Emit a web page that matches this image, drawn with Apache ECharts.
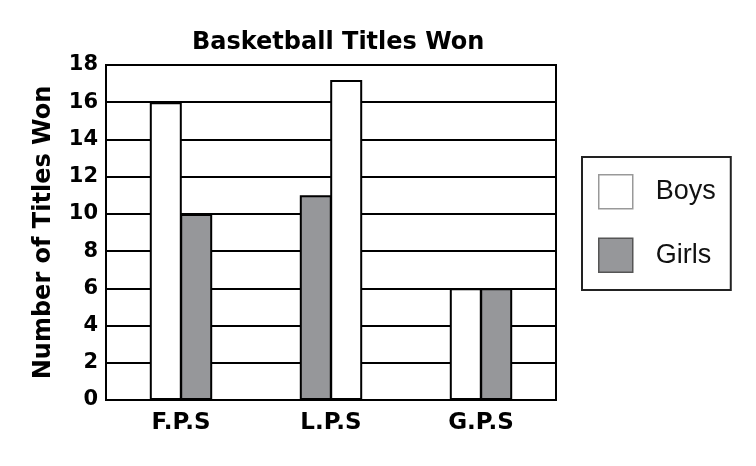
<!DOCTYPE html>
<html style="height: 100%">
<head>
  <meta charset="utf-8">
  <title>Basketball Titles Won</title>
</head>
<body style="height: 100%; margin: 0; background: #fff">
<div id="container" style="width: 756px; height: 466px"></div>
<script type="text/javascript" src="https://cdn.jsdelivr.net/npm/echarts@6/dist/echarts.min.js"></script>
<script type="text/javascript">
  let dom = document.getElementById("container");
  let myChart = echarts.init(dom);

  // data
  let schools = ['F.P.S', 'L.P.S', 'G.P.S']
  let boys = [16, 17.2, 6]
  let girls = [10, 11, 6]
  // at L.P.S the girls bar is drawn on the left
  let girlsFirst = [false, true, false]
  let yTicks = [0, 2, 4, 6, 8, 10, 12, 14, 16, 18]

  let white = '#ffffff'
  let grey = '#96979a'

  // left / right slot of each group
  let leftData = schools.map((s, i) => girlsFirst[i]
    ? { value: girls[i], itemStyle: { color: grey } }
    : { value: boys[i] })
  let rightData = schools.map((s, i) => girlsFirst[i]
    ? { value: boys[i], itemStyle: { color: white } }
    : { value: girls[i] })

  let boldFont = 'DejaVu Sans'

  let option = {
    animation: false,
    title: {
      text: 'Basketball Titles Won',
      left: 187,
      top: 26,
      textStyle: { fontFamily: boldFont, fontWeight: 'bold', fontSize: 24, color: '#000' }
    },
    legend: {
      orient: 'vertical',
      left: 582,
      top: 157,
      padding: [17, 15, 17, 16],
      borderColor: '#222',
      borderWidth: 2,
      icon: 'rect',
      itemWidth: 34,
      itemHeight: 34,
      itemGap: 28,
      textStyle: {
        fontFamily: 'Liberation Sans',
        fontSize: 27,
        color: '#111',
        lineHeight: 34,
        padding: [0, 0, 0, 18]
      },
      data: [
        { name: 'Boys', itemStyle: { color: white, borderColor: '#999', borderWidth: 1.5 } },
        { name: 'Girls', itemStyle: { color: grey, borderColor: '#555', borderWidth: 1.5 } }
      ]
    },
    grid: {
      left: 106,
      right: 200,
      top: 65,
      bottom: 66,
      show: true,
      borderColor: '#000',
      borderWidth: 2,
      backgroundColor: '#fff'
    },
    xAxis: {
      type: 'category',
      data: schools,
      axisTick: { show: false },
      axisLine: { lineStyle: { color: '#000', width: 2 } },
      axisLabel: {
        margin: 12,
        color: '#000',
        fontFamily: boldFont,
        fontWeight: 'bold',
        fontSize: 23
      }
    },
    yAxis: {
      type: 'value',
      min: yTicks[0],
      max: yTicks[yTicks.length - 1],
      interval: 2,
      name: 'Number of Titles Won',
      nameLocation: 'middle',
      nameGap: 50,
      nameTextStyle: { fontFamily: boldFont, fontWeight: 'bold', fontSize: 24, color: '#000' },
      axisLine: { show: true, lineStyle: { color: '#000', width: 2 } },
      axisTick: { show: false },
      axisLabel: {
        margin: 8,
        color: '#000',
        fontFamily: boldFont,
        fontWeight: 'bold',
        fontSize: 21
      },
      splitLine: { lineStyle: { color: '#000', width: 2 } }
    },
    series: [
      {
        name: 'Boys',
        type: 'bar',
        data: leftData,
        barWidth: 32,
        barGap: '-5%',
        itemStyle: { color: white, borderColor: '#000', borderWidth: 2 }
      },
      {
        name: 'Girls',
        type: 'bar',
        data: rightData,
        barWidth: 32,
        barGap: '-5%',
        itemStyle: { color: grey, borderColor: '#000', borderWidth: 2 }
      }
    ]
  };

  myChart.setOption(option, true);
</script>
</body>
</html>
